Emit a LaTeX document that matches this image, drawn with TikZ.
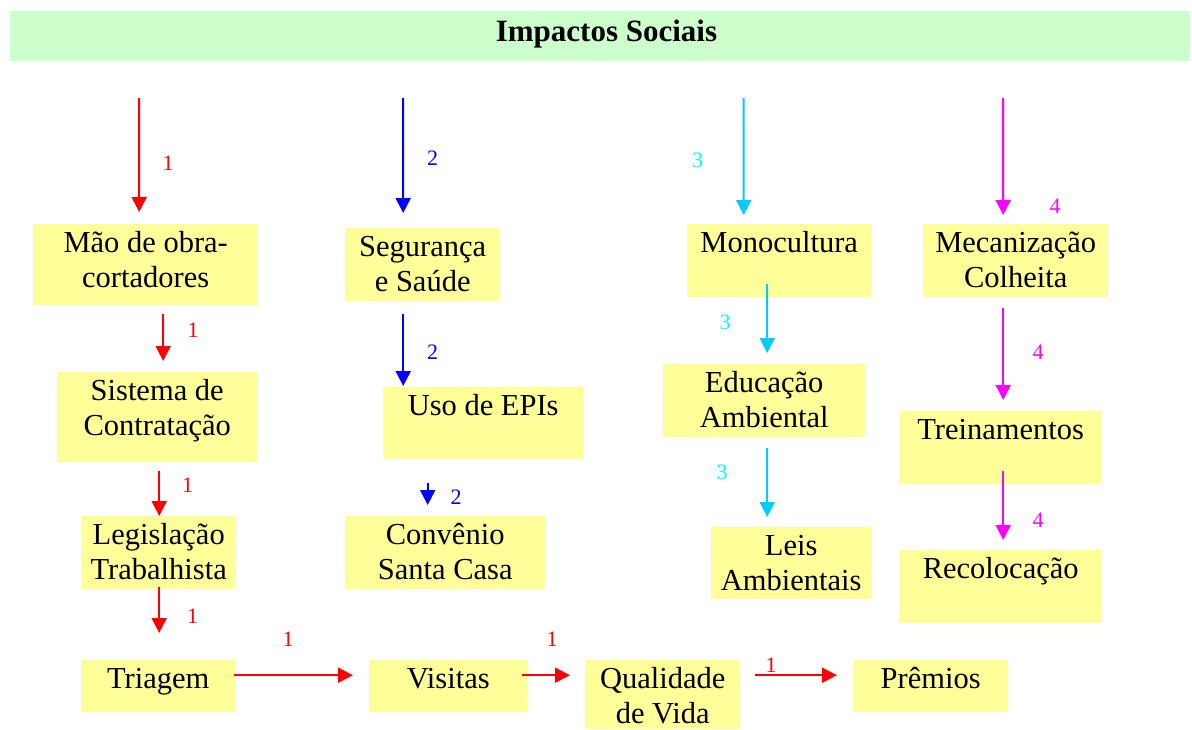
\documentclass[tikz,border=0pt]{standalone}
\usepackage{fontspec}
\setmainfont{Liberation Serif}
\usetikzlibrary{arrows.meta}
\definecolor{boxyellow}{HTML}{FFFF99}
\definecolor{bandgreen}{HTML}{CCFFCC}
\definecolor{flowcyan}{HTML}{00CCFF}
\definecolor{numcyan}{HTML}{00FFFF}
\definecolor{flowpink}{HTML}{FF00FF}
\definecolor{flowred}{HTML}{FF0000}
\definecolor{flowblue}{HTML}{0000FF}
\tikzset{
	impbox/.style={fill=boxyellow, draw=none, inner sep=0, anchor=north west},
	imptext/.style={anchor=north, inner sep=0, align=center, font=\fontsize{30.5}{35}\selectfont},
	flow/.style={line width=2pt, -{Triangle[length=15pt,width=15pt]}},
	redflow/.style={flow, color=flowred},
	blueflow/.style={flow, color=flowblue},
	cyanflow/.style={flow, color=flowcyan},
	pinkflow/.style={flow, color=flowpink},
	num/.style={inner sep=0, font=\fontsize{22}{26}\selectfont},
}
\def\impactbox(#1)(#2,#3)(#4,#5)#6{%
	\node[impbox, minimum width=#4pt, minimum height=#5pt] (#1) at (#2,#3) {};
	\node[imptext] (#1-t) at (#1.north) {\rule{0pt}{28.5pt}#6};}

\begin{document}
\begin{tikzpicture}[x=1pt, y=-1pt]
		%%%%% START %%%%%
		\useasboundingbox (0,0) rectangle (1192,729);
		
		\node[fill=bandgreen, inner sep=0, anchor=north west, minimum width=1180pt, minimum height=50pt] (band) at (10,11) {};
		\node[inner sep=0, anchor=base, font=\bfseries\fontsize{31}{36}\selectfont] (title) at (606.5,41.7) {Impactos Sociais};
		
		% boxes
		\impactbox(mao)(33,224)(225,81){Mão de obra-\\cortadores}
		\impactbox(sis)(57,372)(200,90){Sistema de\\Contratação}
		\impactbox(leg)(81,516)(155,73){Legislação\\Trabalhista}
		\impactbox(tri)(81,660)(154,52){Triagem}
		\impactbox(vis)(369,660)(158,52){Visitas}
		\impactbox(qua)(585,660)(155,69){Qualidade\\de Vida}
		\impactbox(pre)(853,660)(155,52){Prêmios}
		
		\impactbox(seg)(345,228)(155,73){Segurança\\e Saúde}
		\impactbox(epi)(383,387)(200,72){Uso de EPIs}
		\impactbox(con)(345,516)(200,73){Convênio\\Santa Casa}
		
		\impactbox(mono)(687,224)(184,73){Monocultura}
		\impactbox(edu)(663,364)(202,73){Educação\\Ambiental}
		\impactbox(leis)(711,527)(160,72){Leis\\Ambientais}
		
		\impactbox(mec)(923,224)(185,73){Mecanização\\Colheita}
		\impactbox(trei)(899,411)(203,73){Treinamentos}
		\impactbox(reco)(899,550)(203,73){Recolocação}
		
		% free starts
		\coordinate (s1) at (139,98);
		\coordinate (s2) at (403,98);
		\coordinate (s3) at (743.5,98);
		\coordinate (s4) at (1003,98);
		
		% 1
		\draw[redflow] (s1) -- ([shift={(-6.5,-12)}]mao.north);
		\draw[redflow] ([shift={(17.5,9)}]mao.south) -- ([shift={(6,-11)}]sis.north);
		\draw[redflow] ([shift={(2,9)}]sis.south) -- ([shift={(0.5,0)}]leg.north);
		\draw[redflow] ([shift={(0.5,-2)}]leg.south) -- ([shift={(1,-27)}]tri.north);
		\draw[redflow] ([shift={(-1,-11)}]tri.east) -- ([shift={(-16,-11)}]vis.west);
		\draw[redflow] ([shift={(-5,-11)}]vis.east) -- ([shift={(-15,-19.5)}]qua.west);
		\draw[redflow] ([shift={(15,-19.5)}]qua.east) -- ([shift={(-16,-11)}]pre.west);
		
		\node[num, flowred] (n1a) at (168,163) {1};
		\node[num, flowred] (n1b) at (193,330) {1};
		\node[num, flowred] (n1c) at (187.5,485) {1};
		\node[num, flowred] (n1d) at (192.5,616) {1};
		\node[num, flowred] (n1e) at (288,639) {1};
		\node[num, flowred] (n1f) at (552,639) {1};
		\node[num, flowred] (n1g) at (771,665) {1};
		
		% 2
		\draw[blueflow] (s2) -- ([shift={(-19.5,-15)}]seg.north);
		\draw[blueflow] ([shift={(-19.5,13)}]seg.south) -- ([shift={(-80,-1)}]epi.north);
		\draw[blueflow] ([shift={(-55.5,24)}]epi.south) -- ([shift={(-17.5,-11)}]con.north);
		
		\node[num, flowblue] (n2a) at (432.5,158) {2};
		\node[num, flowblue] (n2b) at (432.5,352) {2};
		\node[num, flowblue] (n2c) at (456,497) {2};
		
		% 3
		\draw[cyanflow] (s3) -- ([shift={(-35.5,-9)}]mono.north);
		\draw[cyanflow] ([shift={(-12,-13)}]mono.south) -- ([shift={(3,-11)}]edu.north);
		\draw[cyanflow] ([shift={(3,11)}]edu.south) -- ([shift={(-24,-10)}]leis.north);
		
		\node[num, numcyan] (n3a) at (697.5,160) {3};
		\node[num, numcyan] (n3b) at (725,322) {3};
		\node[num, numcyan] (n3c) at (722,472) {3};
		
		% 4
		\draw[pinkflow] (s4) -- ([shift={(-12.5,-9)}]mec.north);
		\draw[pinkflow] ([shift={(-12.5,11)}]mec.south) -- ([shift={(2.5,-11)}]trei.north);
		\draw[pinkflow] ([shift={(2.5,-13)}]trei.south) -- ([shift={(2.5,-10)}]reco.north);
		
		\node[num, flowpink] (n4a) at (1055,206) {4};
		\node[num, flowpink] (n4b) at (1038,352) {4};
		\node[num, flowpink] (n4c) at (1038,520) {4};
		
		%%%%% END %%%%%
\end{tikzpicture}
\end{document}
